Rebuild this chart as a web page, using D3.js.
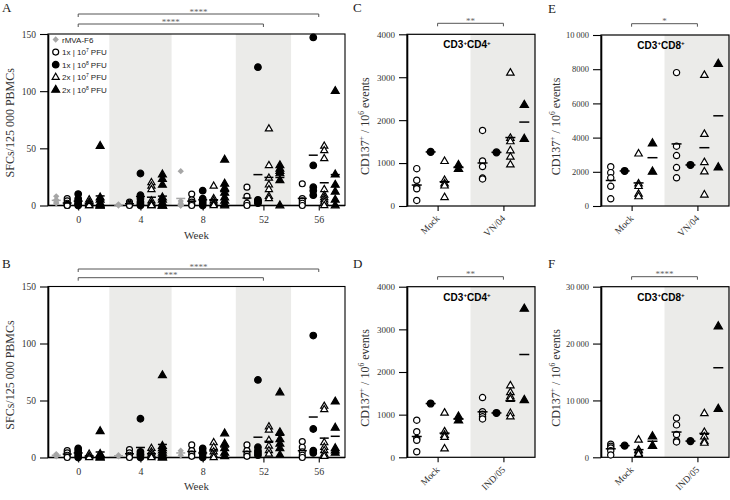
<!DOCTYPE html>
<html>
<head>
<meta charset="utf-8">
<script src="https://cdn.jsdelivr.net/npm/d3@7"></script>
<style>
  html,body{margin:0;padding:0;background:#fff;}
  svg{display:block;}
</style>
</head>
<body>
<svg id="chart" width="730" height="500"></svg>
<script>
// ================= DATA =================
// Panels A and B : SFCs / 125 000 PBMCs per week (one array per week, per series)
const weeks = ["0", "4", "8", "52", "56"];
const timeYTicks = [0, 50, 100, 150];

const A_rMVA = [[8, 5, 3, 2], [1, 0], [30, 4, 2, 1, 0, 0], [], []];
const A_1x7  = [[6, 4, 2, 1, 0, 0], [3, 2, 1, 0], [10, 5, 3, 1, 0], [16, 8, 2, 0], [19, 6, 4, 2, 0]];
const A_1x8  = [[10, 6, 4, 2, 1, 0], [28, 9, 6, 3, 1, 0], [13, 6, 4, 2, 0], [121, 5, 4, 3, 2], [147, 35, 16, 13, 9]];
const A_2x7  = [[5, 3, 2, 1, 0, 0], [20, 17, 14, 4, 2, 1, 0, 0], [17, 6, 4, 2, 1, 0], [67, 35, 24, 18, 14, 8, 6], [52, 48, 41, 14, 9, 7, 5, 3, 0]];
const A_2x8  = [[52, 7, 5, 2, 1, 0, 0, 0], [27, 23, 18, 7, 5, 2, 0, 0, 0, 0], [40, 19, 15, 11, 7, 4, 1, 0], [35, 32, 30, 28, 22, 0], [100, 27, 18, 12, 5, 0]];

const B_rMVA = [[3, 2, 1], [2, 1], [6, 2], [], []];
const B_1x7  = [[6, 4, 2, 0], [7, 4, 2, 0], [11, 6, 3, 1], [11, 6, 3, 1], [14, 9, 5, 2, 0]];
const B_1x8  = [[8, 6, 4, 2, 0], [34, 5, 3, 2, 0], [8, 5, 3, 0], [68, 9, 6, 4, 2], [107, 25, 6, 4]];
const B_2x7  = [[3, 1, 0], [8, 5, 3, 1, 0], [13, 9, 5, 2, 0], [27, 24, 15, 10, 6, 3], [45, 42, 13, 9, 6, 3, 1]];
const B_2x8  = [[23, 3, 2, 1, 0, 0], [72, 10, 8, 6, 4, 2, 1, 0, 0], [21, 12, 8, 4, 1], [57, 22, 16, 12, 8, 2], [49, 26, 8, 6, 4]];

const A_sig = [["0", "56", "****"], ["0", "52", "****"]];
const B_sig = [["0", "56", "****"], ["0", "52", "***"]];

const legendLabels = [
  [["rMVA-F6"]],
  [["1x | 10"], ["7", 1], [" PFU"]],
  [["1x | 10"], ["8", 1], [" PFU"]],
  [["2x | 10"], ["7", 1], [" PFU"]],
  [["2x | 10"], ["8", 1], [" PFU"]]
];

// Panels C-F : CD137+ / 10^6 events (one array per group, per series; series = 1x10^7, 1x10^8, 2x10^7, 2x10^8)
const C_groups = ["Mock", "VN/04"];
const C_1x7 = [[870, 600, 440, 400, 130], [1760, 1050, 920, 650, 630]];
const C_1x8 = [[1260], [1250]];
const C_2x7 = [[1040, 600, 520, 470, 200], [3100, 1580, 1500, 1290, 1140, 960]];
const C_2x8 = [[950, 860], [2350, 1560]];
const C_ticks = [0, 1000, 2000, 3000, 4000];

const D_groups = ["Mock", "IND/05"];
const D_1x7 = [[870, 600, 440, 400, 130], [1400, 1070, 1010, 950, 900]];
const D_1x8 = [[1260], [1040]];
const D_2x7 = [[1040, 600, 520, 470, 200], [1680, 1520, 1420, 1360, 1030, 950]];
const D_2x8 = [[950, 860], [3480, 1340]];
const D_ticks = [0, 1000, 2000, 3000, 4000];

const E_groups = ["Mock", "VN/04"];
const E_1x7 = [[2300, 1950, 1650, 1150, 420], [7800, 3500, 2950, 2250, 1650]];
const E_1x8 = [[2050], [2400]];
const E_2x7 = [[3050, 1300, 1150, 700, 550], [7650, 4200, 2550, 2000, 650]];
const E_2x8 = [[3650, 2000], [8300, 2250]];
const E_ticks = [0, 2000, 4000, 6000, 8000, 10000];

const F_groups = ["Mock", "IND/05"];
const F_1x7 = [[2300, 1950, 1650, 1150, 420], [6900, 5700, 4000, 2900, 2700]];
const F_1x8 = [[2050], [2850]];
const F_2x7 = [[3050, 1300, 1150, 700, 550], [7700, 4400, 3600, 2800, 2500]];
const F_2x8 = [[3650, 2000], [23000, 8500]];
const F_ticks = [0, 10000, 20000, 30000];

// ================= DRAWING =================
const svg = d3.select("#chart");
const SERIF = "'Liberation Serif','DejaVu Serif',serif";
const SANS = "'Liberation Sans',Arial,Helvetica,sans-serif";
const SHADE = "#ebebe9";
const GREY = "#a6a6a6";

function rich(textSel, parts, size) {
  let up = false;
  parts.forEach(([t, sup]) => {
    const ts = textSel.append("tspan").text(t);
    if (sup && !up) { ts.attr("dy", -size * 0.38).attr("font-size", size * 0.62); up = true; }
    else if (sup) { ts.attr("font-size", size * 0.62); }
    else if (up) { ts.attr("dy", size * 0.38); up = false; }
  });
}

const markerStyles = [
  {type: "diamond", fill: GREY, stroke: "none"},
  {type: "circle", fill: "#fff", stroke: "#000"},
  {type: "circle", fill: "#000", stroke: "#000"},
  {type: "triangle", fill: "#fff", stroke: "#000"},
  {type: "triangle", fill: "#000", stroke: "#000"}
];
function drawMarker(g, si, x, y, k) {
  const st = markerStyles[si];
  let path;
  if (st.type === "diamond") path = d3.symbol(d3.symbolSquare, 20 * k)();
  else if (st.type === "circle") path = d3.symbol(d3.symbolCircle, (st.fill === "#000" ? 34 : 28) * k)();
  else path = d3.symbol(d3.symbolTriangle, (st.fill === "#000" ? 27 : 22) * k)();
  g.append("path").attr("d", path)
    .attr("transform", `translate(${x},${y})` + (st.type === "diamond" ? " rotate(45)" : ""))
    .attr("fill", st.fill).attr("stroke", st.stroke).attr("stroke-width", st.stroke === "none" ? 0 : 1.2);
}

function bracket(g, x1, x2, y, label) {
  g.append("path").attr("d", `M${x1},${y + 3}V${y}H${x2}V${y + 3}`)
    .attr("fill", "none").attr("stroke", "#555").attr("stroke-width", 1);
  g.append("text").attr("x", (x1 + x2) / 2).attr("y", y + 0.5).attr("text-anchor", "middle")
    .attr("font-family", SERIF).attr("font-size", 9).attr("fill", "#666").text(label);
}

function letter(x, y, t) {
  svg.append("text").attr("x", x).attr("y", y).attr("font-family", SERIF).attr("font-size", 13).attr("fill", "#222").text(t);
}

// ---------- Panels A / B ----------
const tX0 = 48, tX1 = 345;
const xSlot = d3.scaleLinear().domain([-0.75, 26.3]).range([tX0, tX1]);
const gapAfter = [1.67, 1.67, 2.03, 2.04];

function drawTimePanel(P) {
  const g = svg.append("g");
  const series = P.series;
  const y = d3.scaleLinear().domain([0, 150]).range([P.y0, P.yTop]);
  const cols = weeks.map((w, wi) => series.map((s, si) => si).filter(si => series[si][wi].length > 0));
  const starts = []; let acc = 0;
  cols.forEach((c, wi) => { starts.push(acc); acc += c.length - 1 + (gapAfter[wi] || 0); });
  const ends = cols.map((c, wi) => starts[wi] + c.length - 1);
  const centers = cols.map((c, wi) => starts[wi] + (c.length - 1) / 2);

  [1, 3].forEach(wi => {
    const a = xSlot((ends[wi - 1] + starts[wi]) / 2), b = xSlot((ends[wi] + starts[wi + 1]) / 2);
    g.append("rect").attr("x", a).attr("y", y(150)).attr("width", b - a).attr("height", y(0) - y(150)).attr("fill", SHADE);
  });
  g.append("rect").attr("x", tX0).attr("y", y(150)).attr("width", tX1 - tX0).attr("height", y(0) - y(150))
    .attr("fill", "none").attr("stroke", "#000").attr("stroke-width", 1.1);

  // y axis
  const ya = g.append("g").attr("transform", `translate(${tX0},0)`)
    .call(d3.axisLeft(y).tickValues(timeYTicks).tickSize(8).tickPadding(4).tickSizeOuter(0));
  ya.select(".domain").attr("stroke-width", 1.6);
  ya.selectAll("text").attr("font-family", SERIF).attr("font-size", 9.5).attr("fill", "#333");
  ya.selectAll(".tick line").attr("stroke-width", 1.1);

  // x axis
  const xw = d3.scaleOrdinal().domain(weeks).range(centers.map(c => xSlot(c)));
  const xa = g.append("g").attr("transform", `translate(0,${y(0)})`)
    .call(d3.axisBottom(xw).tickSize(5).tickPadding(5).tickSizeOuter(0));
  xa.select(".domain").remove();
  xa.selectAll("text").attr("font-family", SERIF).attr("font-size", 10).attr("fill", "#333");
  xa.selectAll(".tick line").attr("stroke-width", 1.1);
  g.append("line").attr("x1", tX0).attr("x2", tX1).attr("y1", y(0)).attr("y2", y(0)).attr("stroke", "#000").attr("stroke-width", 1.4);

  g.append("text").attr("x", (tX0 + tX1) / 2).attr("y", P.weekY).attr("text-anchor", "middle")
    .attr("font-family", SERIF).attr("font-size", 11).attr("fill", "#333").text("Week");
  g.append("text").attr("transform", `translate(14,${(y(0) + y(150)) / 2 + 3}) rotate(-90)`).attr("text-anchor", "middle")
    .attr("font-family", SERIF).attr("font-size", 12).attr("fill", "#333").text("SFCs/125 000 PBMCs");

  // points
  const pts = g.append("g"), means = g.append("g");
  series.forEach((s, si) => {
    weeks.forEach((w, wi) => {
      const vals = s[wi];
      if (!vals.length) return;
      const cx = xSlot(starts[wi] + cols[wi].indexOf(si));
      vals.forEach(v => drawMarker(pts, si, cx, y(v), 1));
      const m = d3.mean(vals);
      means.append("line").attr("x1", cx - 4.5).attr("x2", cx + 4.5).attr("y1", y(m)).attr("y2", y(m))
        .attr("stroke", si === 0 ? GREY : "#000").attr("stroke-width", 1.5);
    });
  });

  // significance
  P.sig.forEach(([a, b, lab], i) => bracket(svg, xw(a), xw(b), P.sigY[i], lab));

  // legend
  if (P.legend) {
    const lg = g.append("g");
    legendLabels.forEach((parts, i) => {
      const ly = 39.5 + i * 12.6;
      drawMarker(lg, i, 55.7, ly, 1);
      const t = lg.append("text").attr("x", 62).attr("y", ly + 3).attr("font-family", SANS).attr("font-size", 8).attr("fill", "#222");
      rich(t, parts, 8);
    });
  }
}

// ---------- Panels C-F ----------
function drawFlowPanel(P) {
  const g = svg.append("g");
  const left = P.left, right = P.left + 128;
  const x = d3.scaleLinear().domain([-0.7, 8.5]).range([left, right]);
  const gStart = [0, 4.73];
  const y = d3.scaleLinear().domain([0, P.max]).range([P.y0, P.yTop]);

  const sx = x((3 + gStart[1]) / 2);
  g.append("rect").attr("x", sx).attr("y", y(P.max)).attr("width", right - sx).attr("height", y(0) - y(P.max)).attr("fill", SHADE);
  g.append("rect").attr("x", left).attr("y", y(P.max)).attr("width", right - left).attr("height", y(0) - y(P.max))
    .attr("fill", "none").attr("stroke", "#000").attr("stroke-width", 1.2);

  const fmt = d => d >= 10000 ? d3.format(",")(d).replace(/,/g, "\u2009") : String(d);
  const ya = g.append("g").attr("transform", `translate(${left},0)`)
    .call(d3.axisLeft(y).tickValues(P.ticks).tickFormat(fmt).tickSize(8).tickPadding(4).tickSizeOuter(0));
  ya.select(".domain").attr("stroke-width", 1.6);
  ya.selectAll("text").attr("font-family", SERIF).attr("font-size", P.tickFont).attr("fill", "#333");
  ya.selectAll(".tick line").attr("stroke-width", 1.1);

  const xg = d3.scaleOrdinal().domain(P.groups).range(gStart.map(s => x(s + 1.5)));
  const xa = g.append("g").attr("transform", `translate(0,${y(0)})`)
    .call(d3.axisBottom(xg).tickSize(5).tickPadding(4).tickSizeOuter(0));
  xa.select(".domain").remove();
  xa.selectAll(".tick line").attr("stroke-width", 1.1);
  xa.selectAll("text").attr("font-family", SERIF).attr("font-size", 9.5).attr("fill", "#333")
    .attr("text-anchor", "end").attr("x", 0).attr("y", 0).attr("dy", 0)
    .attr("transform", "translate(2,13) rotate(-45)");

  const t = g.append("text").attr("x", (left + right) / 2 - 4).attr("y", y(P.max) + 14).attr("text-anchor", "middle")
    .attr("font-family", SANS).attr("font-size", 10).attr("font-weight", "bold").attr("fill", "#000");
  rich(t, P.title, 10);

  const yl = g.append("text").attr("transform", `translate(${P.labelX},${(y(0) + y(P.max)) / 2 + 6}) rotate(-90)`)
    .attr("text-anchor", "middle").attr("font-family", SERIF).attr("font-size", 12).attr("fill", "#333");
  rich(yl, [["CD137"], ["+", 1], [" / 10"], ["6", 1], [" events"]], 12);

  const pts = g.append("g"), means = g.append("g");
  P.series.forEach((s, k) => {
    P.groups.forEach((grp, gi) => {
      const vals = s[gi];
      const cx = x(gStart[gi] + k);
      vals.forEach(v => drawMarker(pts, k + 1, cx, y(v), 1.1));
      const m = d3.mean(vals);
      means.append("line").attr("x1", cx - 5).attr("x2", cx + 5).attr("y1", y(m)).attr("y2", y(m))
        .attr("stroke", "#000").attr("stroke-width", 1.5);
    });
  });

  bracket(svg, xg(P.groups[0]), xg(P.groups[1]), P.sigY, P.sig);
}

drawTimePanel({series: [A_rMVA, A_1x7, A_1x8, A_2x7, A_2x8], y0: 205.5, yTop: 34, weekY: 239,
  sig: A_sig, sigY: [14, 24], legend: true});
drawTimePanel({series: [B_rMVA, B_1x7, B_1x8, B_2x7, B_2x8], y0: 457.5, yTop: 286.5, weekY: 490,
  sig: B_sig, sigY: [269, 277.7], legend: false});

const t4 = [["CD3"], ["+", 1], ["CD4"], ["+", 1]];
const t8 = [["CD3"], ["+", 1], ["CD8"], ["+", 1]];
drawFlowPanel({left: 407, y0: 206, yTop: 34.3, max: 4000, ticks: C_ticks, groups: C_groups,
  series: [C_1x7, C_1x8, C_2x7, C_2x8], title: t4, sig: "**", sigY: 23.3, labelX: 369, tickFont: 9});
drawFlowPanel({left: 407, y0: 457.3, yTop: 286.7, max: 4000, ticks: D_ticks, groups: D_groups,
  series: [D_1x7, D_1x8, D_2x7, D_2x8], title: t4, sig: "**", sigY: 276.7, labelX: 369, tickFont: 9});
drawFlowPanel({left: 601, y0: 206, yTop: 35, max: 10000, ticks: E_ticks, groups: E_groups,
  series: [E_1x7, E_1x8, E_2x7, E_2x8], title: t8, sig: "*", sigY: 23.7, labelX: 560, tickFont: 8.5});
drawFlowPanel({left: 601, y0: 457.3, yTop: 286.7, max: 30000, ticks: F_ticks, groups: F_groups,
  series: [F_1x7, F_1x8, F_2x7, F_2x8], title: t8, sig: "****", sigY: 276.7, labelX: 560, tickFont: 8.5});

letter(2, 12, "A");
letter(2, 268, "B");
letter(353, 12, "C");
letter(353, 268, "D");
letter(548, 13, "E");
letter(548, 268, "F");
</script>
</body>
</html>
